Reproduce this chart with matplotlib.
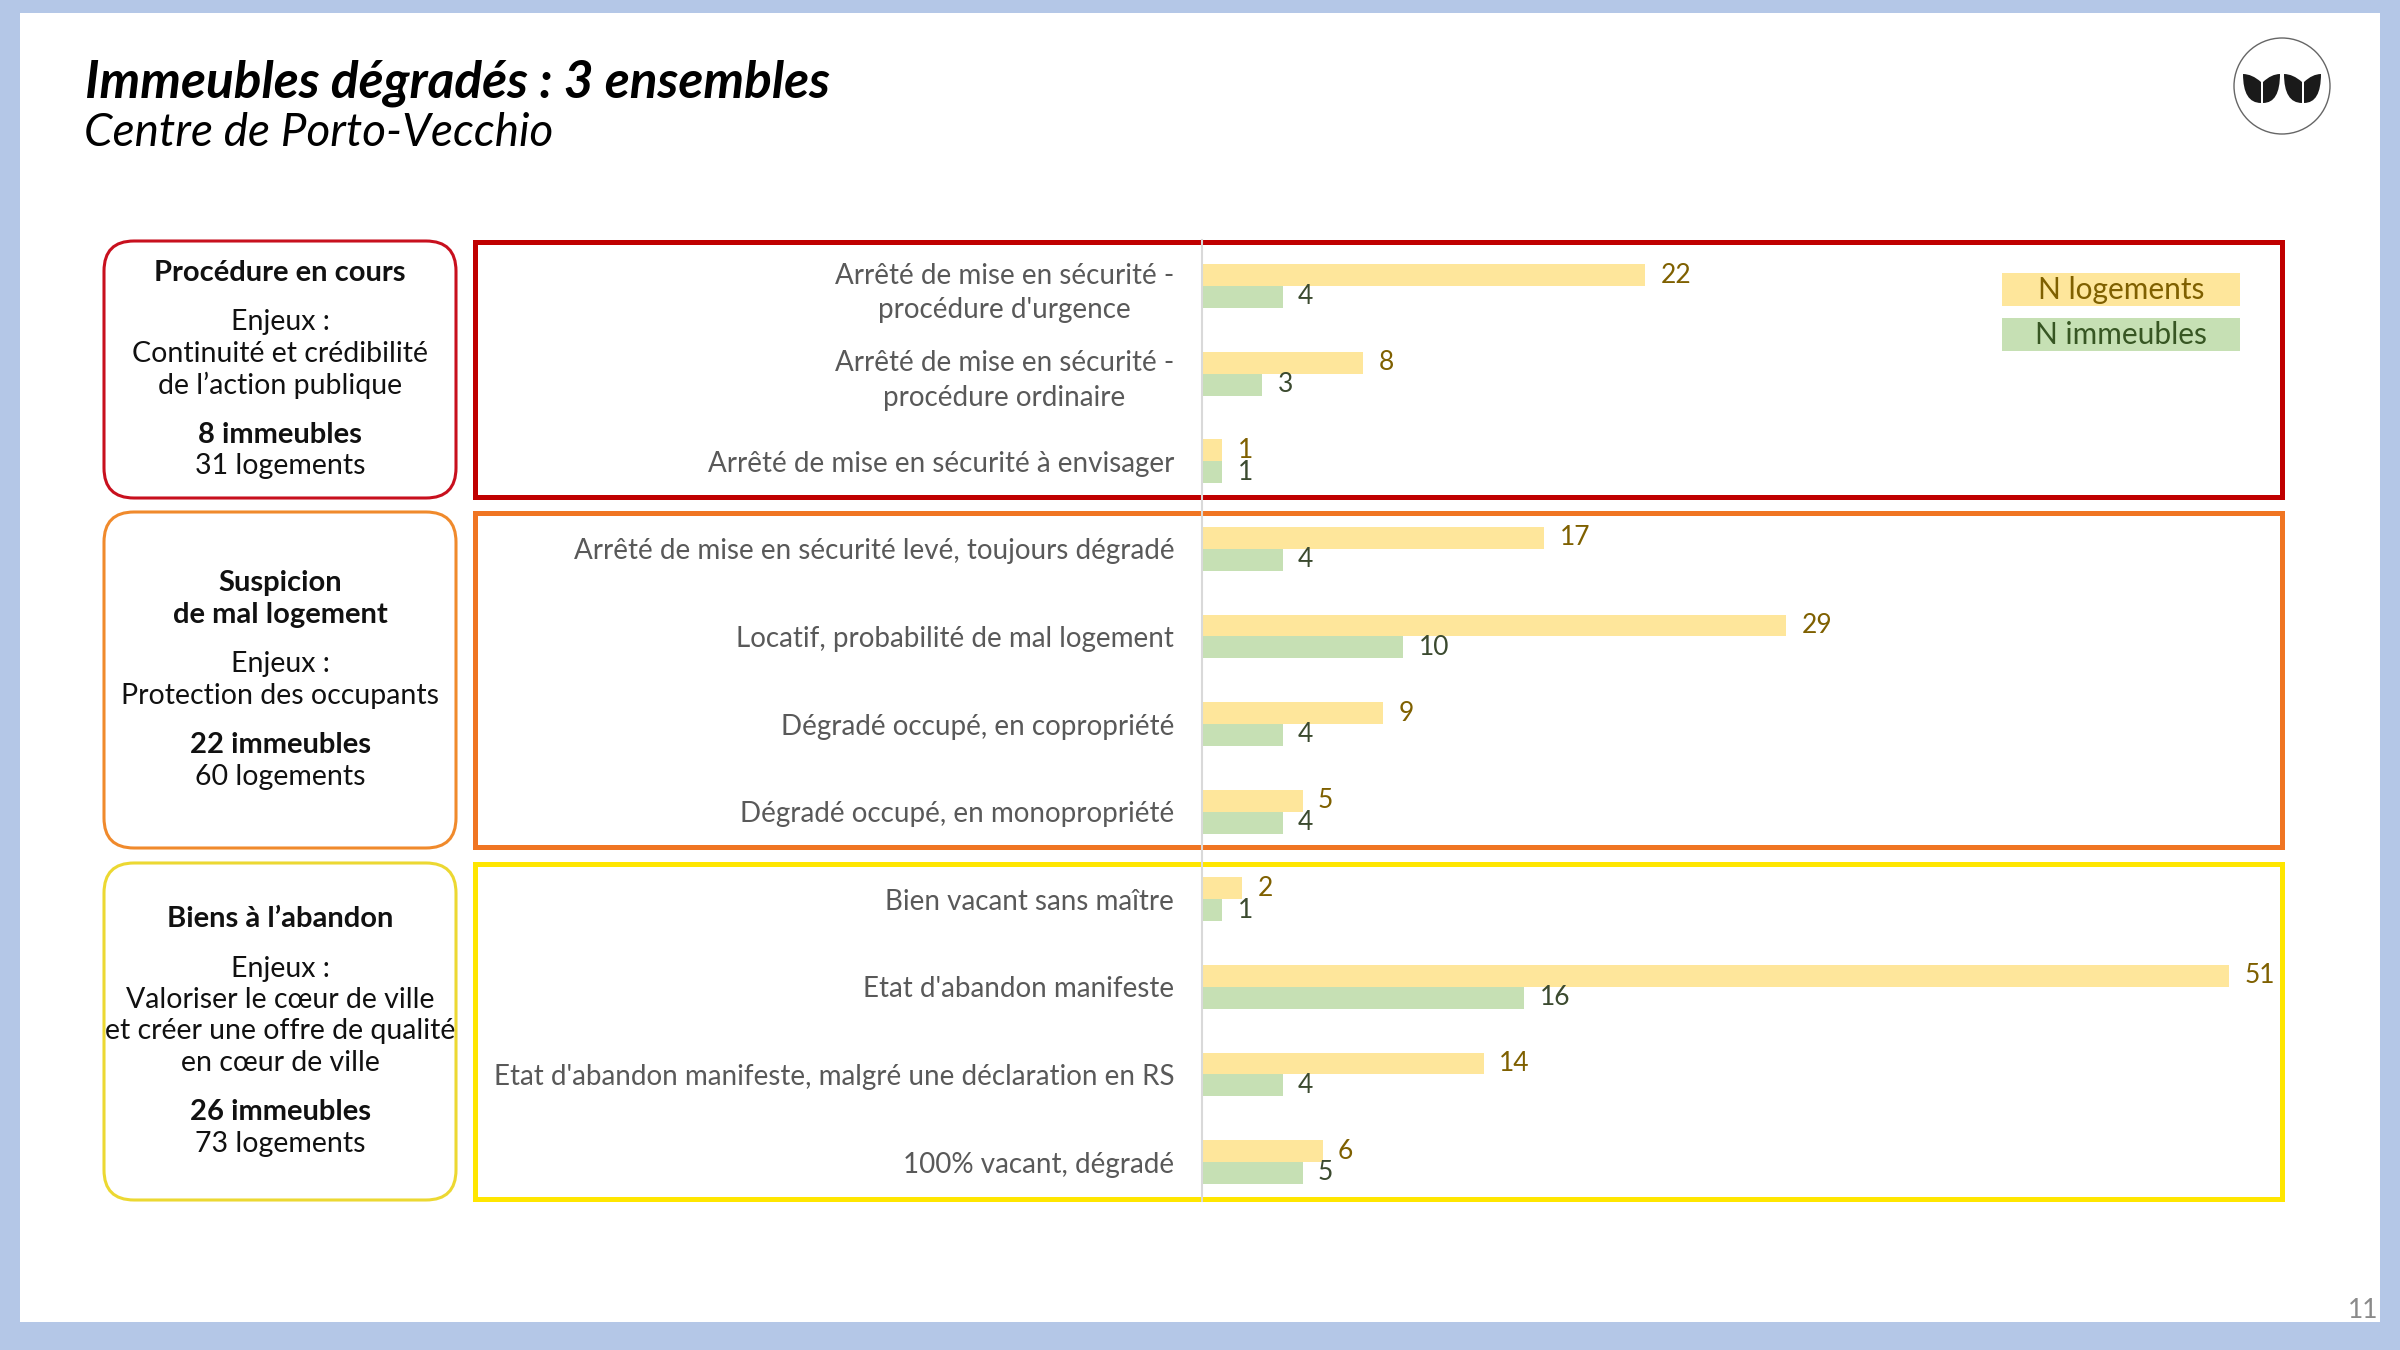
import matplotlib
matplotlib.use("Agg")
import matplotlib.pyplot as plt
from matplotlib.patches import Rectangle, FancyBboxPatch, Circle, PathPatch
from matplotlib.path import Path

plt.rcParams['font.family'] = ['Lato', 'DejaVu Sans']

# ---- data ----
categories = [
    "Arrêté de mise en sécurité -\nprocédure d'urgence",
    "Arrêté de mise en sécurité -\nprocédure ordinaire",
    "Arrêté de mise en sécurité à envisager",
    "Arrêté de mise en sécurité levé, toujours dégradé",
    "Locatif, probabilité de mal logement",
    "Dégradé occupé, en copropriété",
    "Dégradé occupé, en monopropriété",
    "Bien vacant sans maître",
    "Etat d'abandon manifeste",
    "Etat d'abandon manifeste, malgré une déclaration en RS",
    "100% vacant, dégradé",
]
logements = [22, 8, 1, 17, 29, 9, 5, 2, 51, 14, 6]
immeubles = [4, 3, 1, 4, 10, 4, 4, 1, 16, 4, 5]
groups = [
    ("Procédure en cours", "Continuité et crédibilité\nde l’action publique", 0, 3),
    ("Suspicion\nde mal logement", "Protection des occupants", 3, 7),
    ("Biens à l’abandon",
     "Valoriser le cœur de ville\net créer une offre de qualité\nen cœur de ville", 7, 11),
]
series_names = ["N logements", "N immeubles"]

# ---- styles ----
W, H = 2400, 1350
bg_blue = "#b4c7e7"
yellow_bar = "#fee69b"
green_bar = "#c6e0b4"
lab_yellow = "#7f6000"
lab_green = "#3b4a2f"
frame_cols = ["#c00000", "#f07522", "#ffe600"]
box_cols = ["#c8101e", "#f08a2c", "#ecd832"]
frame_tops = [240, 511, 862]
frame_bots = [499, 849, 1201]

fig = plt.figure(figsize=(24, 13.5), dpi=100, facecolor=bg_blue)
bg = fig.add_axes([0, 0, 1, 1])
bg.set_xlim(0, W)
bg.set_ylim(H, 0)
bg.axis("off")

bg.add_patch(Rectangle((20, 13), 2360, 1309, facecolor="white", edgecolor="none"))

# title
bg.text(85, 83, "Immeubles dégradés : 3 ensembles", fontsize=37, fontweight="bold",
        fontstyle="italic", va="center", ha="left", color="black")
bg.text(84, 133, "Centre de Porto-Vecchio", fontsize=33, fontstyle="italic",
        va="center", ha="left", color="black")

# logo
bg.add_patch(Circle((2282, 86), 48, facecolor="white", edgecolor="#666666", lw=1))
def leaf(x_tip, x_edge, yt=74, yb=103):
    xm = (x_tip + x_edge) / 2
    verts = [(x_tip, yt), (x_tip, yb), (x_edge, yb), (x_edge, yt + 8),
             (xm, yt), (x_tip, yt), (x_tip, yt)]
    codes = [Path.MOVETO, Path.CURVE3, Path.CURVE3, Path.LINETO,
             Path.CURVE3, Path.CURVE3, Path.CLOSEPOLY]
    return PathPatch(Path(verts, codes), facecolor="#1a1a1a", edgecolor="none")
for xt, xe in [(2243, 2261), (2280, 2263), (2284, 2302), (2321, 2304)]:
    bg.add_patch(leaf(xt, xe))

# page number
bg.text(2378, 1323, "11", fontsize=19, color="#8a8a8a", ha="right", va="bottom")

# left boxes and right frames
for g, (head, enjeux, a, b) in enumerate(groups):
    top, bot = frame_tops[g], frame_bots[g]
    bg.add_patch(FancyBboxPatch((104, top + 1), 352, bot - top - 2,
                                boxstyle="round,pad=0,rounding_size=30",
                                facecolor="none", edgecolor=box_cols[g], lw=2.2))
    bg.add_patch(Rectangle((475, top + 2), 1807, bot - top - 4, facecolor="none",
                           edgecolor=frame_cols[g], lw=3.6))

    n_imm = sum(immeubles[a:b])
    n_log = sum(logements[a:b])
    lines = [(l, "bold") for l in head.split("\n")] + [None] \
        + [("Enjeux :", "normal")] + [(l, "normal") for l in enjeux.split("\n")] + [None] \
        + [(f"{n_imm} immeubles", "bold"), (f"{n_log} logements", "normal")]
    step, gap = 31.5, 18
    total = sum(gap if ln is None else step for ln in lines) - step
    y = (top + bot) / 2 - total / 2
    for ln in lines:
        if ln is None:
            y += gap
            continue
        bg.text(280, y, ln[0], fontsize=21 if ln[1] == "bold" else 20.5,
                fontweight=ln[1], ha="center", va="center", color="#111111")
        y += step

# legend
for k, (name, fc, tc) in enumerate(zip(series_names, [yellow_bar, green_bar],
                                         [lab_yellow, "#375623"])):
    y0 = 273 + k * 45
    bg.add_patch(Rectangle((2002, y0), 238, 33, facecolor=fc, edgecolor="none"))
    bg.text(2121, y0 + 17, name, fontsize=21.5, color=tc, ha="center", va="center")

# ---- bar chart ----
x0, x1, y_top, y_bot = 1202, 2284, 240, 1201
ax = fig.add_axes([x0 / W, 1 - y_bot / H, (x1 - x0) / W, (y_bot - y_top) / H])
ax.patch.set_visible(False)
px_per_unit = 1027 / 51
row = 87.6
ax.set_xlim(0, (x1 - x0) / px_per_unit)
ax.set_ylim((y_bot - 286) / row, (y_top - 286) / row)

pos = list(range(len(categories)))
h = 0.25
b1 = ax.barh([p - h / 2 for p in pos], logements, height=h, color=yellow_bar)
b2 = ax.barh([p + h / 2 for p in pos], immeubles, height=h, color=green_bar)
ax.bar_label(b1, padding=11, fontsize=19, color=lab_yellow)
ax.bar_label(b2, padding=11, fontsize=19, color=lab_green)

ax.set_yticks(pos)
ax.set_yticklabels(categories, fontsize=20, color="#595959")
for t in ax.get_yticklabels():
    t.set_multialignment("center")
    t.set_linespacing(1.4)
ax.tick_params(axis="y", length=0, pad=20)
ax.set_xticks([])
for s in ["top", "right", "bottom"]:
    ax.spines[s].set_visible(False)
ax.spines["left"].set_color("#d9d9d9")
ax.spines["left"].set_linewidth(1.5)

fig.savefig("out.png", dpi=100, facecolor=bg_blue)
